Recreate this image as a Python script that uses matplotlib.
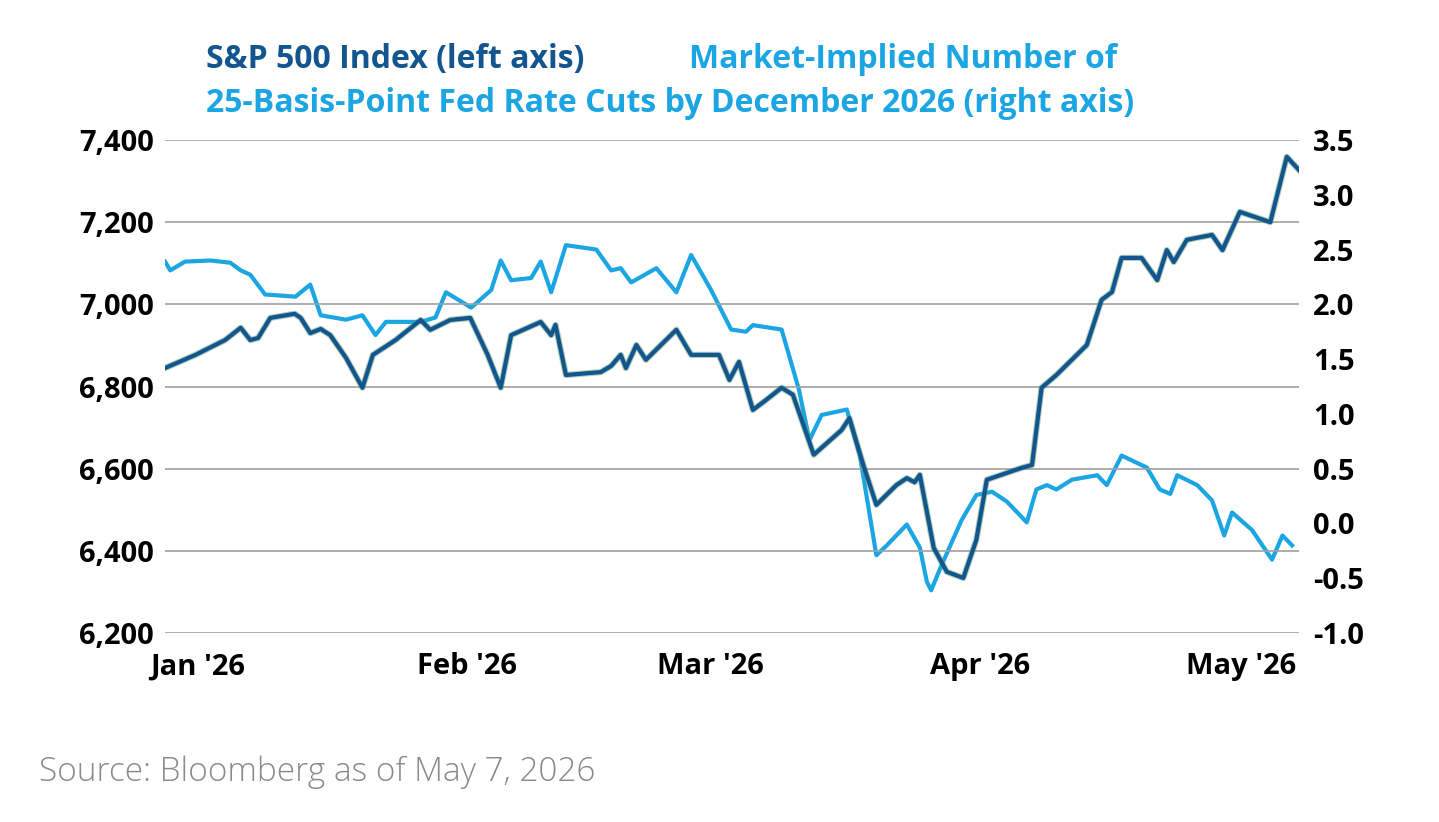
import matplotlib.pyplot as plt

# day offsets from Jan 1 2026
spx_day = [-3.7, -0.2, 3.2, 5.0, 6.1, 7.0, 8.4, 11.2, 11.9, 13.0, 14.2, 15.3, 17.1, 19.0, 20.2, 22.8,
           25.7, 26.8, 29.1, 31.4, 33.4, 34.9, 36.1, 39.5, 40.7, 41.2, 42.4, 46.4, 47.6, 48.7, 49.3,
           50.5, 51.6, 55.1, 56.8, 60.0, 61.2, 62.3, 63.9, 65.4, 67.2, 68.5, 70.9, 74.1, 75.0, 76.6,
           78.1, 80.4, 81.6, 82.5, 83.1, 84.7, 86.2, 88.1, 89.6, 90.8, 94.8, 96.0, 97.1, 98.8, 102.3,
           104.0, 105.2, 106.3, 108.6, 110.4, 111.5, 112.3, 113.8, 116.7, 117.9, 119.9, 123.4, 125.3, 126.7]
spx_val = [6845, 6877, 6913, 6943, 6913, 6918, 6967, 6977, 6967, 6930, 6940, 6925, 6870, 6797, 6877, 6913,
           6962, 6938, 6962, 6967, 6877, 6797, 6925, 6957, 6925, 6950, 6828, 6835, 6850, 6877, 6845,
           6901, 6865, 6938, 6877, 6877, 6816, 6860, 6743, 6767, 6797, 6780, 6634, 6694, 6723, 6609,
           6512, 6560, 6577, 6567, 6585, 6407, 6349, 6334, 6427, 6573, 6602, 6609, 6797, 6828, 6901,
           7011, 7030, 7113, 7113, 7059, 7132, 7103, 7157, 7169, 7132, 7225, 7200, 7359, 7327]

cut_day = [-3.7, -3.1, -1.4, 1.5, 3.8, 5.0, 6.1, 7.8, 11.3, 13.0, 14.2, 17.1, 19.0, 20.5, 21.7, 25.7,
           27.4, 28.6, 31.5, 33.8, 34.9, 36.1, 38.4, 39.5, 40.7, 42.4, 45.9, 47.6, 48.7, 49.9, 52.8,
           55.1, 56.8, 59.1, 61.4, 63.1, 63.9, 67.2, 69.2, 70.4, 71.8, 74.7, 76.2, 78.1, 79.3, 81.6,
           83.1, 83.9, 84.4, 85.6, 87.9, 89.6, 91.4, 93.1, 95.4, 96.5, 97.7, 98.8, 100.6, 103.5, 104.6,
           106.3, 109.2, 110.7, 111.9, 112.7, 115.0, 116.7, 118.1, 119.0, 121.3, 123.6, 124.8, 125.9]
cut_val = [2.39, 2.31, 2.39, 2.40, 2.38, 2.31, 2.27, 2.09, 2.07, 2.18, 1.90, 1.86, 1.90, 1.72, 1.84, 1.84,
           1.88, 2.11, 1.97, 2.13, 2.40, 2.22, 2.24, 2.39, 2.11, 2.54, 2.50, 2.31, 2.33, 2.20, 2.33,
           2.11, 2.45, 2.13, 1.77, 1.75, 1.81, 1.77, 1.22, 0.76, 0.99, 1.04, 0.62, -0.29, -0.20, -0.01,
           -0.22, -0.53, -0.61, -0.38, 0.03, 0.26, 0.29, 0.20, 0.01, 0.31, 0.35, 0.31, 0.40, 0.44, 0.35,
           0.62, 0.51, 0.31, 0.27, 0.44, 0.35, 0.21, -0.11, 0.10, -0.06, -0.33, -0.11, -0.20]

month_days = [0, 31, 59, 90, 120]
month_labels = ["Jan '26", "Feb '26", "Mar '26", "Apr '26", "May '26"]
left_ticks = [6200, 6400, 6600, 6800, 7000, 7200, 7400]
right_ticks = [-1.0, -0.5, 0.0, 0.5, 1.0, 1.5, 2.0, 2.5, 3.0, 3.5]

dark = '#12558f'
light = '#1ba6e3'
plt.rcParams['font.family'] = ['Open Sans', 'DejaVu Sans']

fig = plt.figure(figsize=(14.39, 8.22), dpi=100)
ax = fig.add_axes([0.1147, 0.2299, 0.788, 0.5998])
ax2 = ax.twinx()

ax.set_ylim(6200, 7400)
ax2.set_ylim(-1.0, 3.5)
ax.set_xlim(-3.7, 126.7)
ax.set_yticks(left_ticks)
ax.set_yticklabels([f'{v:,}' for v in left_ticks], fontsize=21, fontweight='bold')
ax2.set_yticks(right_ticks)
ax2.set_yticklabels([f'{v:.1f}' for v in right_ticks], fontsize=21, fontweight='bold')
ax.set_xticks(month_days)
ax.set_xticklabels(month_labels, fontsize=21, fontweight='bold')
ax.grid(axis='y', color='#a0a0a0', lw=1.2)
ax.set_axisbelow(True)
for a in (ax, ax2):
    for s in a.spines.values():
        s.set_visible(False)
    a.tick_params(length=0)
ax.tick_params(axis='y', pad=8)
ax2.tick_params(axis='y', pad=10)
ax.tick_params(axis='x', pad=14)

ax2.plot(cut_day, cut_val, color=light, lw=3, zorder=2)
ax.plot(spx_day, spx_val, color='#5f9f6f', lw=4.5, alpha=0.5, zorder=3)
ax.plot(spx_day, spx_val, color=dark, lw=3, zorder=4)
ax.set_zorder(ax2.get_zorder() + 1)
ax.patch.set_visible(False)

fig.text(0.143, 0.928, 'S&P 500 Index (left axis)', color=dark, fontsize=23, fontweight='bold', va='center')
fig.text(0.479, 0.928, 'Market-Implied Number of', color=light, fontsize=23, fontweight='bold', va='center')
fig.text(0.143, 0.874, '25-Basis-Point Fed Rate Cuts by December 2026 (right axis)', color=light,
         fontsize=23, fontweight='bold', va='center')
fig.text(0.027, 0.06, 'Source: Bloomberg as of May 7, 2026', color='#8a8a8a', fontsize=24,
         fontweight='light', va='center')

fig.savefig('out.png', dpi=100)
